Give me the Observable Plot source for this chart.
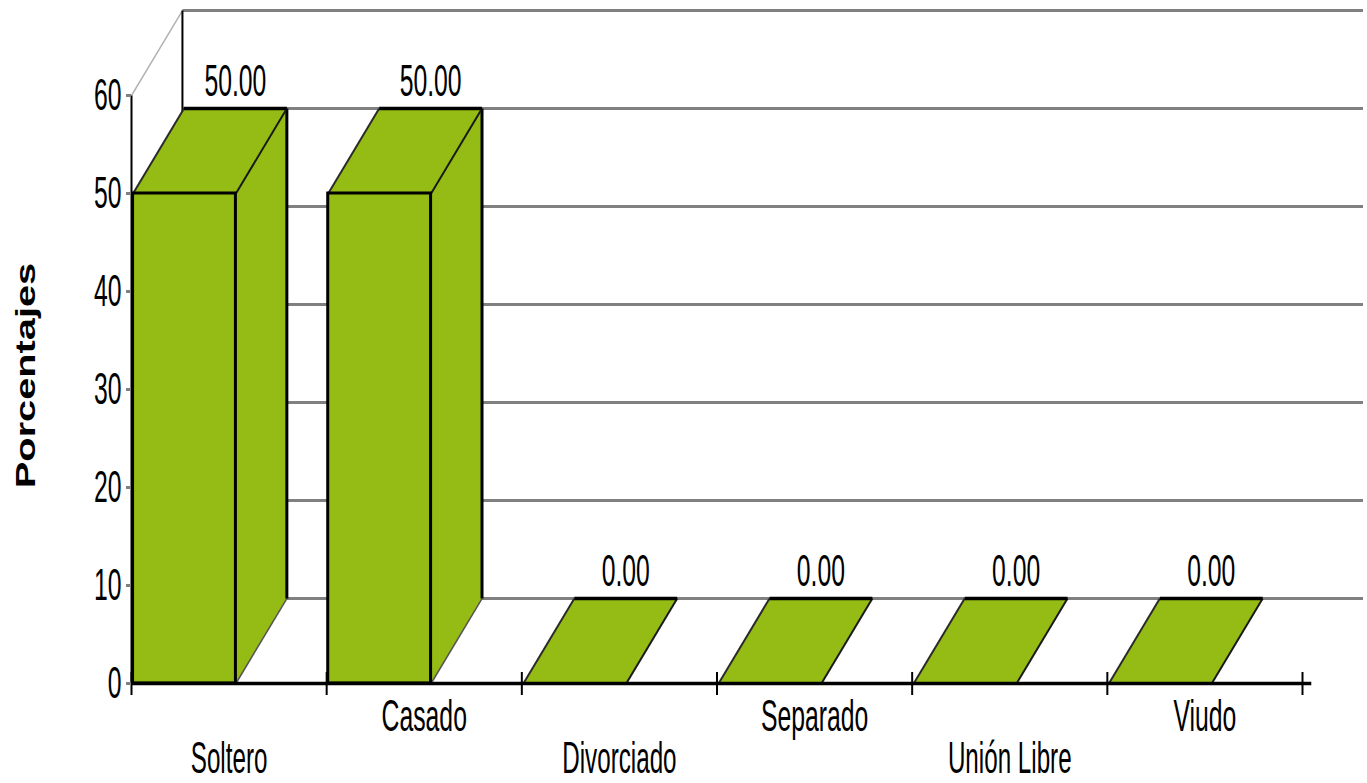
<!DOCTYPE html>
<html>
<head>
<meta charset="utf-8">
<script src="https://cdn.jsdelivr.net/npm/d3@7"></script>
<script src="https://cdn.jsdelivr.net/npm/@observablehq/plot@0.6"></script>
<style>
  html, body { margin: 0; padding: 0; background: #fff; }
  #chart svg { display: block; }
</style>
</head>
<body>
<div id="chart"></div>
<script>
// Estado civil — porcentajes
const categories = ["Soltero", "Casado", "Divorciado", "Separado", "Unión Libre", "Viudo"];
const values = [50.00, 50.00, 0.00, 0.00, 0.00, 0.00];
const yTicks = [0, 10, 20, 30, 40, 50, 60];
const valueLabels = values.map(v => v.toFixed(2));
const yLabel = "Porcentajes";

// Oblique projection of the 3-D box, in scale units:
// each category occupies a unit-wide slot on x; depth shifts back-right and upward.
const SLOT_INSET = 0.008, BAR_W = 0.527, DEPTH_X = 0.261, DEPTH_Y = 8.67;
const WALL_END = categories.length + 0.31;
const GREEN = "#94bc14";

const bars = categories.map((cat, i) => {
  const x0 = i + SLOT_INSET, x1 = x0 + BAR_W, v = values[i];
  return {cat, i, v, x0, x1, label: valueLabels[i]};
});

// Polygon faces (top and right side) as closed point series
const faces = [];
bars.forEach(b => {
  const {x0, x1, v} = b;
  [[x0, v], [x1, v], [x1 + DEPTH_X, v + DEPTH_Y], [x0 + DEPTH_X, v + DEPTH_Y], [x0, v]]
    .forEach(([x, y]) => faces.push({id: `top-${b.i}`, x, y}));
  if (v > 0) {
    [[x1, 0], [x1 + DEPTH_X, DEPTH_Y], [x1 + DEPTH_X, v + DEPTH_Y], [x1, v], [x1, 0]]
      .forEach(([x, y]) => faces.push({id: `side-${b.i}`, x, y}));
  }
});
const tall = bars.filter(b => b.v > 0);

const svg = Plot.plot({
  width: 1367,
  height: 783,
  marginLeft: 131,
  marginRight: 65,
  marginTop: 95,
  marginBottom: 100,
  style: {fontFamily: "'Liberation Sans', Arial, sans-serif", background: "#fff", overflow: "visible"},
  x: {type: "linear", domain: [0, categories.length], axis: null},
  y: {type: "linear", domain: [0, 60], axis: null},
  marks: [
    // back-wall gridlines
    Plot.link(yTicks, {x1: DEPTH_X, x2: WALL_END, y1: d => d + DEPTH_Y, y2: d => d + DEPTH_Y,
      stroke: "#808080", strokeWidth: 3}),
    // wall edges
    Plot.link([60], {x1: 0, y1: d => d, x2: DEPTH_X, y2: d => d + DEPTH_Y, stroke: "#b4b4b4", strokeWidth: 1.5}),
    Plot.link([60], {x1: DEPTH_X, y1: d => d + DEPTH_Y, x2: DEPTH_X, y2: DEPTH_Y, stroke: "#000", strokeWidth: 2}),
    // bar faces
    Plot.rect(tall, {x1: "x0", x2: "x1", y1: 0, y2: "v", fill: GREEN}),
    Plot.line(faces, {x: "x", y: "y", z: "id", fill: GREEN, stroke: "none", curve: "linear"}),
    // bar edges
    Plot.link(tall, {x1: d => d.x1, y1: 0, x2: d => d.x1 + DEPTH_X, y2: DEPTH_Y, stroke: "#555", strokeWidth: 1.5}),
    Plot.link(tall, {x1: d => d.x1 + DEPTH_X, y1: DEPTH_Y, x2: d => d.x1 + DEPTH_X, y2: d => d.v + DEPTH_Y,
      stroke: "#000", strokeWidth: 3}),
    Plot.link(bars, {x1: "x0", y1: "v", x2: d => d.x0 + DEPTH_X, y2: d => d.v + DEPTH_Y, stroke: "#2a2a2a", strokeWidth: 2}),
    Plot.link(bars, {x1: "x1", y1: "v", x2: d => d.x1 + DEPTH_X, y2: d => d.v + DEPTH_Y, stroke: "#1a1a1a", strokeWidth: 2}),
    Plot.link(bars, {x1: d => d.x0 + DEPTH_X, x2: d => d.x1 + DEPTH_X, y1: d => d.v + DEPTH_Y, y2: d => d.v + DEPTH_Y,
      stroke: "#000", strokeWidth: 3.5}),
    Plot.rect(tall, {x1: "x0", x2: "x1", y1: 0, y2: "v", fill: "none", stroke: "#000", strokeWidth: 3}),
    // x axis with category boundary ticks
    Plot.ruleX(d3.range(categories.length + 1), {x: d => d, y1: 0, y2: 0, insetTop: -11, insetBottom: -12,
      stroke: "#000", strokeWidth: 2}),
    Plot.link([0], {x1: 0, x2: categories.length + 0.045, y1: 0, y2: 0, stroke: "#000", strokeWidth: 3.5}),
    // y axis
    Plot.link([0], {x1: 0, x2: 0, y1: 0, y2: 60, stroke: "#000", strokeWidth: 2}),
    Plot.axisY(yTicks, {anchor: "left", tickSize: 5, tickPadding: 5, stroke: "#808080", strokeWidth: 3,
      fill: "#000", fontSize: 45, tickFormat: d => String(d), label: null}),
    // category labels, staggered on two rows
    Plot.text(bars, {x: d => d.i + 0.5, y: 0, text: "cat", fontSize: 45, fill: "#000",
      filter: d => d.i % 2 === 1, dy: 33}),
    Plot.text(bars, {x: d => d.i + 0.5, y: 0, text: "cat", fontSize: 44, fill: "#000",
      filter: d => d.i % 2 === 0, dy: 75}),
    // value labels above the back edge of each bar top
    Plot.text(bars, {x: d => d.x0 + BAR_W / 2 + DEPTH_X, y: d => d.v + DEPTH_Y, text: "label",
      dy: -27, fontSize: 45, fill: "#000"}),
    // y axis title
    Plot.text([yLabel], {frameAnchor: "left", dx: -105, dy: -14, rotate: -90, textAnchor: "middle",
      fontSize: 28, fontWeight: 900, fill: "#000"})
  ]
});

// condensed lettering: squeeze labels horizontally, stretch the axis title along its run
d3.select(svg).selectAll("text").each(function () {
  const t = this.getAttribute("transform") || "";
  const s = this.textContent === yLabel ? "scale(1.42,1)" : "scale(0.55,1)";
  this.setAttribute("transform", `${t} ${s}`);
});

document.getElementById("chart").appendChild(svg);
</script>
</body>
</html>
